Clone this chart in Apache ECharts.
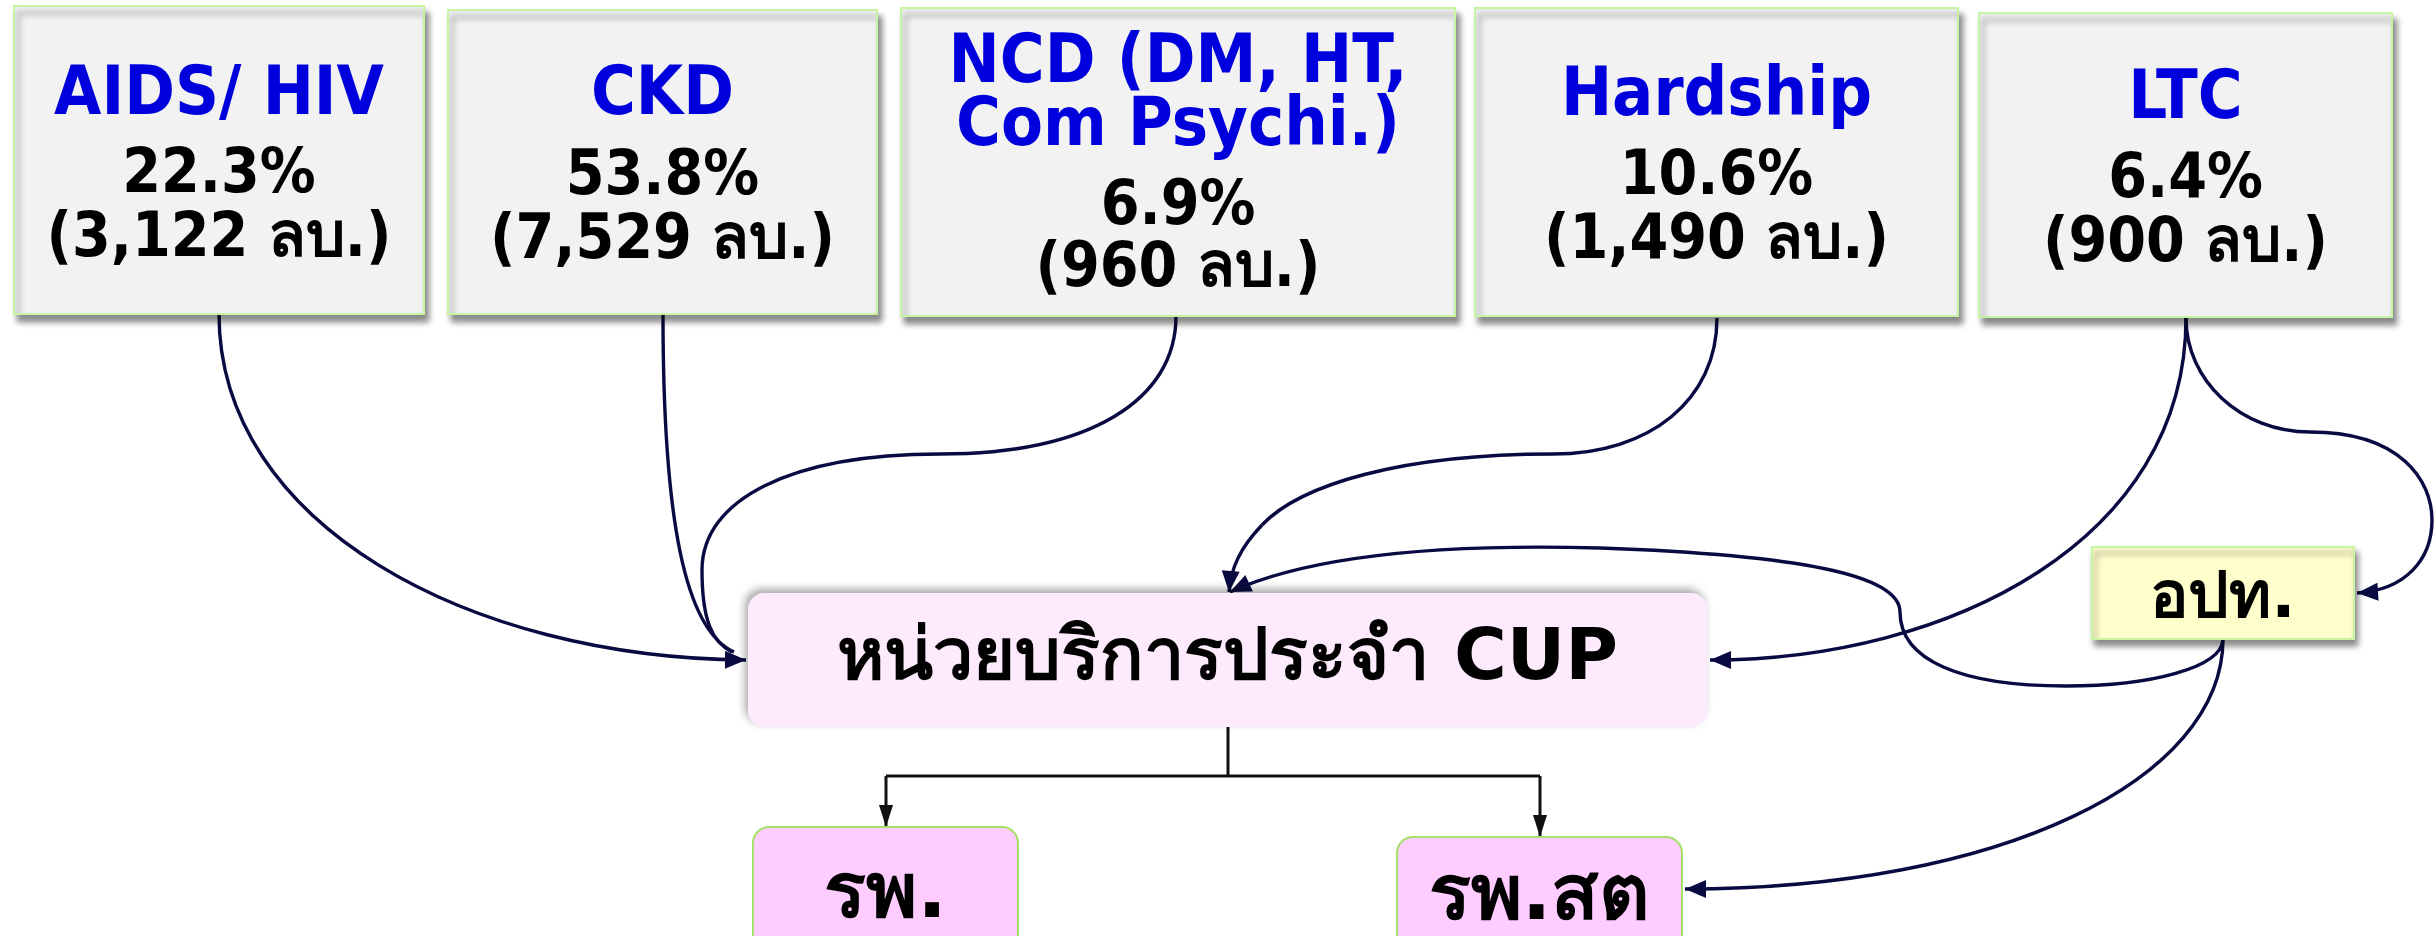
<!DOCTYPE html>
<html><head><meta charset="utf-8">
<script src="https://cdn.jsdelivr.net/npm/echarts@6/dist/echarts.min.js"></script>
<style>html,body{margin:0;padding:0;background:#fff}#c{width:2436px;height:936px}</style>
</head><body><div id="c"></div>
<script>
// ---- data ----
const categories = ['AIDS/ HIV', 'CKD', 'NCD (DM, HT,\nCom Psychi.)', 'Hardship', 'LTC'];
const shares = [22.3, 53.8, 6.9, 10.6, 6.4];          // percent of budget
const amounts = [3122, 7529, 960, 1490, 900];         // million baht
const unitLabel = 'ลบ.';
const hubLabel = 'หน่วยบริการประจำ CUP';
const localGovLabel = 'อปท.';
const facilityLabels = ['รพ.', 'รพ.สต'];

// ---- layout (diagram space, 2436 x 936) ----
const W = 2436, H = 936;
const topLayout = [
  { rect: [14, 6, 424, 314], ys: [[96], 176, 240] },
  { rect: [448, 10, 877, 314], ys: [[96], 178, 242] },
  { rect: [901, 8, 1455, 316], ys: [[64, 127], 208, 270] },
  { rect: [1475, 8, 1958, 316], ys: [[97], 178, 242] },
  { rect: [1979, 13, 2392, 317], ys: [[100], 181, 245] }
];
const hubLayout = { rect: [748, 593, 1707, 727], ty: 660 };
const localGovLayout = { rect: [2092, 547, 2354, 639], ty: 600 };
const facilityLayout = [
  { rect: [753, 827, 1018, 960], ty: 897 },
  { rect: [1397, 837, 1682, 960], ty: 899 }
];
// connectors: start point + list of cubic segments [cp1, cp2, end]
const navyLinks = [
  { start: [219, 314], segs: [[[219, 525], [470, 658], [746, 660]]], arrow: true },
  { start: [663, 314], segs: [[[663, 520], [685, 630], [734, 652]]], arrow: false },
  { start: [1176, 316], segs: [[[1176, 400], [1090, 454], [940, 454]], [[790, 454], [702, 500], [702, 570]], [[702, 620], [712, 642], [732, 652]]], arrow: false },
  { start: [1717, 318], segs: [[[1717, 400], [1650, 454], [1553, 454]], [[1400, 454], [1300, 485], [1262, 525]], [[1240, 548], [1231, 568], [1229, 592]]], arrow: true },
  { start: [2186, 318], segs: [[[2186, 540], [1950, 660], [1710, 660]]], arrow: true },
  { start: [2186, 318], segs: [[[2186, 380], [2240, 432], [2310, 432]], [[2400, 432], [2432, 480], [2432, 520]], [[2432, 560], [2405, 590], [2357, 593]]], arrow: true },
  { start: [2223, 639], segs: [[[2223, 780], [2000, 889], [1685, 889]]], arrow: true },
  { start: [2223, 639], segs: [[[2222, 668], [2150, 686], [2066, 686]], [[1960, 686], [1900, 660], [1900, 612]], [[1900, 575], [1800, 555], [1600, 548]], [[1420, 543], [1300, 560], [1230, 592]]], arrow: true }
];
const blackLinks = [
  { pts: [[1228, 727], [1228, 776]], arrow: false },
  { pts: [[886, 776], [1540, 776]], arrow: false },
  { pts: [[886, 776], [886, 827]], arrow: true },
  { pts: [[1540, 776], [1540, 837]], arrow: true }
];

const fmtAmount = v => '(' + v.toLocaleString('en-US') + ' ' + unitLabel + ')';
const TITLE_FONT = 'bold 68px "DejaVu Sans Condensed", "DejaVu Sans", sans-serif';
const NUM_FONT = 'bold 62px "DejaVu Sans Condensed", "DejaVu Sans", sans-serif';
const NAVY = '#0a0a42';

function arrowHead(api, tip, from, len, hw, color) {
  const dx = tip[0] - from[0], dy = tip[1] - from[1];
  const d = Math.sqrt(dx * dx + dy * dy) || 1;
  const ux = dx / d, uy = dy / d;
  const bx = tip[0] - ux * len, by = tip[1] - uy * len;
  const p = [tip, [bx - uy * hw, by + ux * hw], [bx + uy * hw, by - ux * hw]].map(q => api.coord(q));
  return { type: 'polygon', shape: { points: p }, style: { fill: color } };
}

function rectOf(api, r) {
  const a = api.coord([r[0], r[1]]), b = api.coord([r[2], r[3]]);
  return { x: a[0], y: a[1], width: b[0] - a[0], height: b[1] - a[1] };
}

const chart = echarts.init(document.getElementById('c'), null, { renderer: 'canvas' });
chart.setOption({
  animation: false,
  backgroundColor: '#ffffff',
  grid: { left: 0, right: 0, top: 0, bottom: 0 },
  xAxis: { type: 'value', min: 0, max: W, show: false },
  yAxis: { type: 'value', min: 0, max: H, inverse: true, show: false },
  series: [
    { // navy connectors
      type: 'custom', coordinateSystem: 'cartesian2d', z: 1,
      data: navyLinks.map((l, i) => [i]),
      renderItem: (params, api) => {
        const l = navyLinks[params.dataIndex];
        const children = [];
        let p0 = l.start;
        l.segs.forEach(s => {
          const a = api.coord(p0), c1 = api.coord(s[0]), c2 = api.coord(s[1]), e = api.coord(s[2]);
          children.push({ type: 'bezierCurve', shape: { x1: a[0], y1: a[1], cpx1: c1[0], cpy1: c1[1], cpx2: c2[0], cpy2: c2[1], x2: e[0], y2: e[1] }, style: { stroke: NAVY, lineWidth: 3.4, fill: null } });
          p0 = s[2];
        });
        if (l.arrow) {
          const last = l.segs[l.segs.length - 1];
          children.push(arrowHead(api, last[2], last[1], 21, 9, NAVY));
        }
        return { type: 'group', children };
      }
    },
    { // black connectors
      type: 'custom', coordinateSystem: 'cartesian2d', z: 1,
      data: blackLinks.map((l, i) => [i]),
      renderItem: (params, api) => {
        const l = blackLinks[params.dataIndex];
        const a = api.coord(l.pts[0]), b = api.coord(l.pts[1]);
        const children = [{ type: 'line', shape: { x1: a[0], y1: a[1], x2: b[0], y2: b[1] }, style: { stroke: '#111', lineWidth: 3 } }];
        if (l.arrow) children.push(arrowHead(api, l.pts[1], l.pts[0], 22, 7, '#111'));
        return { type: 'group', children };
      }
    },
    { // top category boxes
      type: 'custom', coordinateSystem: 'cartesian2d', z: 2,
      data: categories.map((c, i) => [i]),
      renderItem: (params, api) => {
        const i = params.dataIndex, L = topLayout[i];
        const r = rectOf(api, L.rect);
        const cx = r.x + r.width / 2;
        const children = [{ type: 'rect', shape: r, style: { fill: '#f2f2f2', stroke: '#c6f4a0', lineWidth: 2, shadowColor: 'rgba(0,0,0,0.45)', shadowBlur: 6, shadowOffsetX: 4, shadowOffsetY: 7 } }];
        categories[i].split('\n').forEach((t, k) => {
          children.push({ type: 'text', style: { text: t, x: cx, y: api.coord([0, L.ys[0][k]])[1], align: 'center', verticalAlign: 'middle', fill: '#0000dd', font: TITLE_FONT } });
        });
        children.push({ type: 'text', style: { text: shares[i].toFixed(1) + '%', x: cx, y: api.coord([0, L.ys[1]])[1], align: 'center', verticalAlign: 'middle', fill: '#000', font: NUM_FONT } });
        children.push({ type: 'text', style: { text: fmtAmount(amounts[i]), x: cx, y: api.coord([0, L.ys[2]])[1], align: 'center', verticalAlign: 'middle', fill: '#000', font: NUM_FONT } });
        return { type: 'group', children };
      }
    },
    { // hub, local government and facility boxes
      type: 'custom', coordinateSystem: 'cartesian2d', z: 3,
      data: [[0], [1], [2], [3]],
      renderItem: (params, api) => {
        const i = params.dataIndex;
        let L, label, rectStyle, font, radius;
        if (i === 0) {
          L = hubLayout; label = hubLabel; radius = 16;
          rectStyle = { fill: '#fdebfd', shadowColor: 'rgba(0,0,0,0.35)', shadowBlur: 9, shadowOffsetX: -3, shadowOffsetY: -4 };
          font = 'bold 72px "DejaVu Sans", sans-serif';
        } else if (i === 1) {
          L = localGovLayout; label = localGovLabel; radius = 0;
          rectStyle = { fill: '#ffffcc', stroke: '#c6f4a0', lineWidth: 2, shadowColor: 'rgba(0,0,0,0.45)', shadowBlur: 6, shadowOffsetX: 3, shadowOffsetY: 6 };
          font = 'bold 64px "DejaVu Sans", sans-serif';
        } else {
          L = facilityLayout[i - 2]; label = facilityLabels[i - 2]; radius = 16;
          rectStyle = { fill: '#ffccff', stroke: '#a6e066', lineWidth: 2 };
          font = 'bold 78px "DejaVu Sans", sans-serif';
        }
        const r = rectOf(api, L.rect);
        r.r = radius;
        return { type: 'group', children: [
          { type: 'rect', shape: r, style: rectStyle },
          { type: 'text', style: { text: label, x: r.x + r.width / 2, y: api.coord([0, L.ty])[1], align: 'center', verticalAlign: 'middle', fill: '#000', font } }
        ] };
      }
    }
  ]
});
</script></body></html>
